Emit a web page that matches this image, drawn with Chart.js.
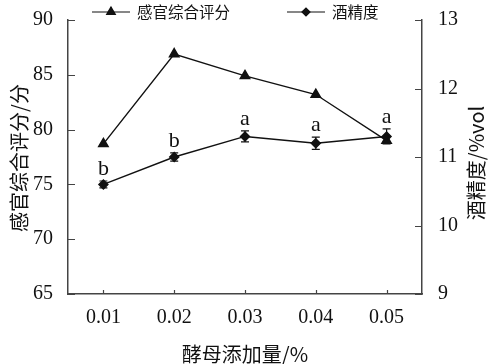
<!DOCTYPE html>
<html>
<head>
<meta charset="utf-8">
<script src="https://cdn.jsdelivr.net/npm/chart.js@4/dist/chart.umd.min.js"></script>
<style>
  html, body { margin: 0; padding: 0; background: #fff; }
  #wrap { width: 491px; height: 364px; position: relative; }
</style>
</head>
<body>
<div id="wrap"><canvas id="c"></canvas></div>
<script>
// ── data ─────────────────────────────────────────────────────────────────────
const doses      = ['0.01', '0.02', '0.03', '0.04', '0.05']
const sensory    = [78.7, 86.9, 84.9, 83.2, 79.0]      // 感官综合评分 (left axis)
const alcohol    = [10.6, 11.0, 11.3, 11.2, 11.3]      // 酒精度 (right axis)
const alcoholErr = [0.05, 0.06, 0.08, 0.09, 0.11]
const sigLetters = ['b', 'b', 'a', 'a', 'a']
const leftTicks  = [65, 70, 75, 80, 85, 90]
const rightTicks = [9, 10, 11, 12, 13]

const SERIF = "'Liberation Serif', 'Times New Roman', serif"
const CJK   = "'Noto Sans CJK SC', sans-serif"
const INK   = '#111'
const AXIS  = '#444'

// inward ticks, error bars, significance letters, legend and axis titles
const decor = {
    id: 'decor',
    afterDatasetsDraw(chart) {
        const { ctx, chartArea: a, scales } = chart
        const x = scales.x, y = scales.y, y1 = scales.y1
        ctx.save()
        ctx.strokeStyle = AXIS
        ctx.lineWidth = 1.2
        ctx.beginPath()
        leftTicks.forEach(v => {
            const py = Math.round(y.getPixelForValue(v)) + 0.5
            ctx.moveTo(a.left, py); ctx.lineTo(a.left + 7, py)
        })
        rightTicks.forEach(v => {
            const py = Math.round(y1.getPixelForValue(v)) + 0.5
            ctx.moveTo(a.right, py); ctx.lineTo(a.right - 7, py)
        })
        doses.forEach((d, i) => {
            const px = Math.round(x.getPixelForValue(i)) + 0.5
            ctx.moveTo(px, a.bottom); ctx.lineTo(px, a.bottom - 4)
        })
        ctx.stroke()

        // error bars + letters
        ctx.strokeStyle = INK
        ctx.lineWidth = 1.2
        ctx.fillStyle = INK
        ctx.font = `22px ${SERIF}`
        ctx.textAlign = 'center'
        ctx.textBaseline = 'alphabetic'
        alcohol.forEach((v, i) => {
            const px = x.getPixelForValue(i)
            const top = y1.getPixelForValue(v + alcoholErr[i])
            const bot = y1.getPixelForValue(v - alcoholErr[i])
            ctx.beginPath()
            ctx.moveTo(px, top); ctx.lineTo(px, bot)
            ctx.moveTo(px - 4, top); ctx.lineTo(px + 4, top)
            ctx.moveTo(px - 4, bot); ctx.lineTo(px + 4, bot)
            ctx.stroke()
            ctx.fillText(sigLetters[i], px, top - 6)
        })

        // legend
        const legend = [
            { label: '感官综合评分', style: 'triangle', x0: 92 },
            { label: '酒精度', style: 'rectRot', x0: 287 },
        ]
        ctx.font = `15.5px ${CJK}`
        ctx.textAlign = 'left'
        ctx.textBaseline = 'middle'
        legend.forEach(l => {
            ctx.beginPath()
            ctx.moveTo(l.x0, 12); ctx.lineTo(l.x0 + 38, 12)
            ctx.stroke()
            Chart.helpers.drawPoint(ctx, { pointStyle: l.style, radius: l.style === 'triangle' ? 5 : 4, rotation: 0, borderWidth: 1 }, l.x0 + 19, 12)
            ctx.fill()
            ctx.fillText(l.label, l.x0 + 45, 12)
        })

        // axis titles
        ctx.textAlign = 'center'
        ctx.font = `20px ${CJK}`
        ctx.fillText('酵母添加量/%', (a.left + a.right) / 2, 354)
        ctx.save()
        ctx.translate(19, 158)
        ctx.rotate(-Math.PI / 2)
        ctx.fillText('感官综合评分/分', 0, 0)
        ctx.restore()
        ctx.save()
        ctx.translate(476, 163)
        ctx.rotate(-Math.PI / 2)
        ctx.fillText('酒精度/%vol', 0, 0)
        ctx.restore()
        ctx.restore()
    },
}

new Chart(document.getElementById('c'), {
    type: 'line',
    data: {
        labels: doses,
        datasets: [
            {
                label: '感官综合评分',
                data: sensory,
                yAxisID: 'y',
                borderColor: INK,
                backgroundColor: INK,
                borderWidth: 1.4,
                pointStyle: 'triangle',
                pointRadius: 5.5,
                tension: 0,
            },
            {
                label: '酒精度',
                data: alcohol,
                yAxisID: 'y1',
                borderColor: INK,
                backgroundColor: INK,
                borderWidth: 1.4,
                pointStyle: 'rectRot',
                pointRadius: 4.5,
                tension: 0,
            },
        ],
    },
    options: {
        responsive: true,
        maintainAspectRatio: false,
        animation: false,
        layout: { padding: { top: 20, left: 0, right: 0, bottom: 0 } },
        plugins: { legend: { display: false }, tooltip: { enabled: false } },
        scales: {
            x: {
                offset: true,
                grid: { display: false },
                border: { color: AXIS, width: 1.5 },
                ticks: { color: INK, font: { family: SERIF, size: 20 }, padding: 4 },
                afterFit: s => { s.height = 70 },
            },
            y: {
                position: 'left',
                min: 65, max: 90,
                afterBuildTicks: s => { s.ticks = leftTicks.map(v => ({ value: v })) },
                grid: { display: false },
                border: { color: AXIS, width: 1.5 },
                ticks: { color: INK, font: { family: SERIF, size: 20 }, padding: 7 },
                afterFit: s => { s.width = 68 },
            },
            y1: {
                position: 'right',
                min: 9, max: 13,
                afterBuildTicks: s => { s.ticks = rightTicks.map(v => ({ value: v })) },
                grid: { display: false },
                border: { color: AXIS, width: 1.5 },
                ticks: { color: INK, font: { family: SERIF, size: 20 }, padding: 8 },
                afterFit: s => { s.width = 69 },
            },
        },
    },
    plugins: [decor],
})
</script>
</body>
</html>
